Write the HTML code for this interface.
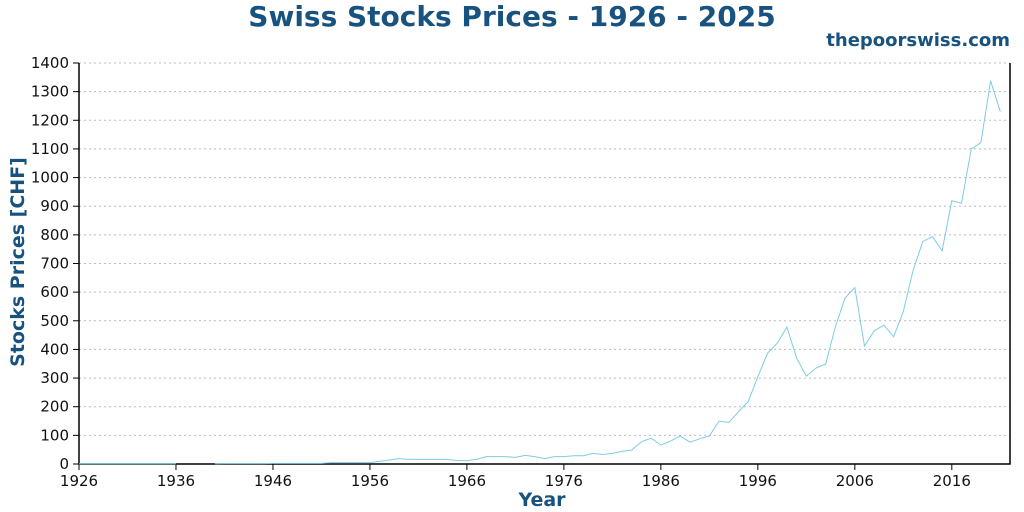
<!DOCTYPE html>
<html><head><meta charset="utf-8"><style>
body{margin:0;background:#fff;}
svg{display:block;font-family:"DejaVu Sans","Liberation Sans",sans-serif;}
</style></head><body>
<svg id="chart" width="1024" height="512" viewBox="0 0 1024 512">
<text x="512" y="26" text-anchor="middle" font-size="28" font-weight="bold" fill="#18527e">Swiss Stocks Prices - 1926 - 2025</text>
<text x="1010" y="46" text-anchor="end" font-size="18" font-weight="bold" fill="#18527e">thepoorswiss.com</text>
<text transform="translate(24,262) rotate(-90)" text-anchor="middle" font-size="19" font-weight="bold" fill="#18527e">Stocks Prices [CHF]</text>
<text x="542" y="506" text-anchor="middle" font-size="19" font-weight="bold" fill="#18527e">Year</text>
<g id="grid"></g><g id="axes"></g><g id="series"></g>
</svg>
<script>
const years=[];for(let y=1926;y<=2022;y++)years.push(y);
const prices=[1,1,1,1,1,1,1,1,1,1,1,null,null,null,1,1.5,1.5,1.5,1.5,1.5,
2,2,2,2,2,2,5,5,5,5,5,9,14,19,16,16,16,16,16,12,
12,16,26,26,26,23,30,26,19,26,26,29,29,37,33,37,44,49,78,90,
66,80,98,76,88,98,150,145,183,218,305,387,422,478,370,307,335,349,479,580,
616,412,465,485,444,532,675,776,794,744,919,910,1099,1122,1338,1230];
const yTicks=[0,100,200,300,400,500,600,700,800,900,1000,1100,1200,1300,1400];
const xTicks=[1926,1936,1946,1956,1966,1976,1986,1996,2006,2016];
const L=79,R=1010,T=63,B=464,x0=1926,x1=2022,yMax=1400;
const X=v=>L+(v-x0)/(x1-x0)*(R-L), Y=v=>B-v/yMax*(B-T);
const ns="http://www.w3.org/2000/svg";
const mk=(t,a,p)=>{const e=document.createElementNS(ns,t);for(const k in a)e.setAttribute(k,a[k]);p.appendChild(e);return e;};
const grid=document.getElementById('grid'),axes=document.getElementById('axes'),ser=document.getElementById('series');
yTicks.forEach(v=>{
 if(v>0){const g=mk('line',{x1:L,x2:R,y1:Y(v),y2:Y(v),stroke:'#bbb','stroke-dasharray':'2,3'},grid);
 
 }
 mk('line',{x1:L-6,x2:L,y1:Y(v),y2:Y(v),stroke:'#000'},axes);
 const t=mk('text',{x:L-10,y:Y(v)+5,'text-anchor':'end','font-size':15,fill:'#111'},axes);t.textContent=v;
 
 
});
xTicks.forEach(v=>{
 mk('line',{x1:X(v),x2:X(v),y1:B,y2:B+6,stroke:'#000'},axes);
 const t=mk('text',{x:X(v),y:B+22,'text-anchor':'middle','font-size':15,fill:'#111'},axes);t.textContent=v;
 
 
});
const ax=mk('path',{d:`M${L},${T} V${B} H${R} V${T}`,fill:'none',stroke:'#000','stroke-width':1.5},axes);


let d='',pen=false;
years.forEach((yr,i)=>{const v=prices[i];if(v==null){pen=false;return;}d+=(pen?'L':'M')+X(yr).toFixed(1)+','+Y(v).toFixed(1);pen=true;});
const line=mk('path',{d:d,fill:'none',stroke:'#7ecbe8','stroke-width':1},ser);


</script>
</body></html>
